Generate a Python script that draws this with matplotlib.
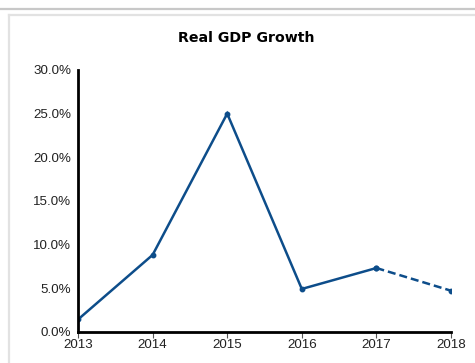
import matplotlib
matplotlib.use("Agg")
import matplotlib.pyplot as plt
from matplotlib.lines import Line2D
from matplotlib.ticker import FuncFormatter

years = [2013, 2014, 2015, 2016, 2017, 2018]
growth = [1.4, 8.8, 25.0, 4.9, 7.3, 4.7]
y_ticks = [0, 5, 10, 15, 20, 25, 30]
title = "Real GDP Growth"

color = "#0d4d8a"

fig = plt.figure(figsize=(4.75, 3.63), dpi=100)
fig.patch.set_facecolor("white")

# frame decorations
fig.add_artist(Line2D([0, 1], [1 - 8.5/363, 1 - 8.5/363], transform=fig.transFigure,
                      color="#c8c8c8", lw=1.6))
fig.add_artist(Line2D([8.5/475, 1], [1 - 14.5/363, 1 - 14.5/363], transform=fig.transFigure,
                      color="#e2e2e2", lw=1.6))
fig.add_artist(Line2D([8.5/475, 8.5/475], [0, 1 - 14.5/363], transform=fig.transFigure,
                      color="#e2e2e2", lw=1.6))

ax = fig.add_axes([78/475, 1 - 331.7/363, (451 - 78)/475, (331.7 - 70)/363])

ax.plot(years[:-1], growth[:-1], color=color, lw=1.8, marker="o", ms=3.2, solid_joinstyle="miter")
ax.plot(years[-2:], growth[-2:], color=color, lw=1.8, ls=(0, (3.2, 1.6)), marker="o", ms=3.2)

ax.set_xlim(years[0], years[-1])
ax.set_ylim(0, 30)
ax.set_xticks(years)
ax.set_yticks(y_ticks)
ax.yaxis.set_major_formatter(FuncFormatter(lambda v, p: f"{v:.1f}%"))

for s in ["top", "right"]:
    ax.spines[s].set_visible(False)
for s in ["left", "bottom"]:
    ax.spines[s].set_linewidth(2.0)
    ax.spines[s].set_color("black")

ax.tick_params(axis="y", length=0, pad=5, labelsize=9.6, labelcolor="#222222")
ax.tick_params(axis="x", length=4, width=0.8, color="#555555", pad=1, labelsize=9.6, labelcolor="#222222")
for lab in ax.get_xticklabels() + ax.get_yticklabels():
    lab.set_fontfamily("Liberation Sans")

fig.text(246/475, 1 - 38/363, title, ha="center", va="center", fontsize=10.2,
         fontweight="bold", family="DejaVu Sans")

fig.savefig("out.png", dpi=100)
